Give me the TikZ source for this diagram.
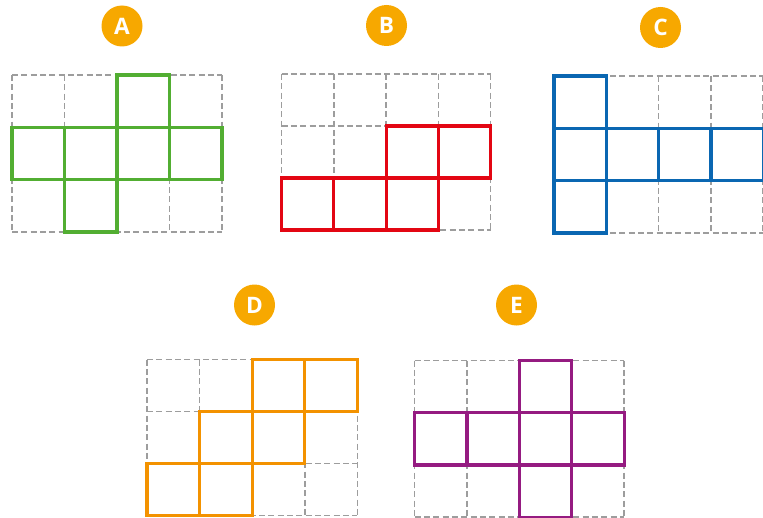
\documentclass[tikz,border=0pt]{standalone}
\usepackage{fontspec}
\setmainfont{Open Sans}
\definecolor{badge}{HTML}{F7A800}
\definecolor{cgreen}{HTML}{52AE32}
\definecolor{cred}{HTML}{E30613}
\definecolor{cblue}{HTML}{0A67B2}
\definecolor{corange}{HTML}{F39200}
\definecolor{cpurple}{HTML}{951B81}
\definecolor{gridgray}{HTML}{9D9D9D}
\tikzset{
  badgenode/.style={circle, fill=badge, minimum size=41*0.75pt, inner sep=0pt,
    text=white, font=\fontsize{17}{17}\selectfont\bfseries},
  gridline/.style={draw=gridgray, line width=1.1pt, dash pattern=on 4.5pt off 2.5pt},
  cellline/.style={line width=2.4pt, line join=miter},
}
\newcommand{\netgrid}[7]{% x0 y0 w h color cells
  \begin{scope}[shift={(#1,#2)}, x=#3*0.75pt, y=-#4*0.75pt]
    \foreach \r in {0,...,3}{\draw[gridline] (0,\r) -- (4,\r);}
    \foreach \c in {0,...,4}{\draw[gridline] (\c,0) -- (\c,3);}
    \foreach \c/\r in {#6}{\draw[cellline, draw=#5] (\c,\r) rectangle ++(1,1);}
  \end{scope}}
\begin{document}
\begin{tikzpicture}[x=0.75pt, y=-0.75pt]
\useasboundingbox (0,0) rectangle (763,517);
\node[badgenode] (la) at (122,26) {A};
\node[badgenode] (lb) at (386.5,25.5) {B};
\node[badgenode] (lc) at (660.5,27.5) {C};
\node[badgenode] (ld) at (254.5,305) {D};
\node[badgenode] (le) at (516.5,305) {E};
\netgrid{12}{75}{52.5}{52.3}{cgreen}{2/0,0/1,1/1,2/1,3/1,1/2}{}
\netgrid{281.5}{74}{52.3}{52}{cred}{2/1,3/1,0/2,1/2,2/2}{}
\netgrid{554}{76}{52.3}{52.3}{cblue}{0/0,0/1,1/1,2/1,3/1,0/2}{}
\netgrid{147}{359.5}{52.6}{52}{corange}{2/0,3/0,1/1,2/1,0/2,1/2}{}
\netgrid{414.5}{360.5}{52.4}{52.2}{cpurple}{2/0,0/1,1/1,2/1,3/1,2/2}{}
\end{tikzpicture}
\end{document}
